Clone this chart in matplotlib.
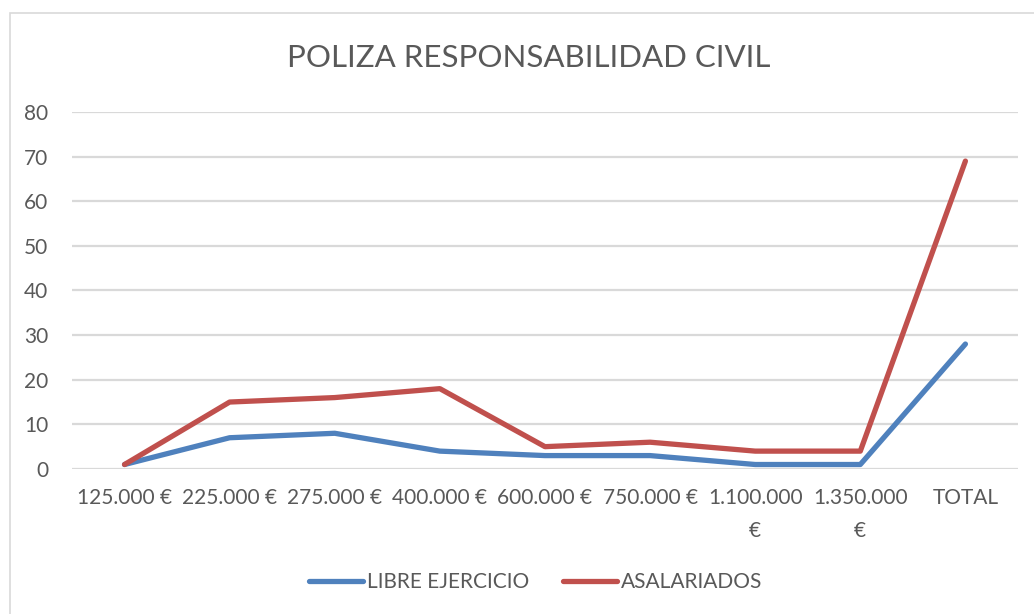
import matplotlib.pyplot as plt
from matplotlib.patches import Rectangle

plt.rcParams['font.family'] = ['Lato', 'DejaVu Sans']

categorias = ['125.000 €', '225.000 €', '275.000 €', '400.000 €', '600.000 €',
              '750.000 €', '1.100.000\n€', '1.350.000\n€', 'TOTAL']
libre_ejercicio = [1, 7, 8, 4, 3, 3, 1, 1, 28]
asalariados = [1, 15, 16, 18, 5, 6, 4, 4, 69]

gris = '#595959'

fig = plt.figure(figsize=(10.34, 6.14), dpi=100)
ax = fig.add_axes([0.0696, 0.2362, 0.9149, 0.5814])

# marco exterior del gráfico
fig.patches.append(Rectangle((10 / 1034, -0.01), 1.1, 1 - 13 / 614 + 0.01,
                             transform=fig.transFigure, fill=False,
                             edgecolor='#d9d9d9', lw=1.2))

x = range(len(categorias))
ax.plot(x, libre_ejercicio, color='#4F81BD', lw=3.8, solid_capstyle='round',
        solid_joinstyle='round', label='LIBRE EJERCICIO')
ax.plot(x, asalariados, color='#C0504D', lw=3.8, solid_capstyle='round',
        solid_joinstyle='round', label='ASALARIADOS')

ax.set_xlim(-0.5, len(categorias) - 0.5)
ax.set_ylim(0, 80)
ax.set_yticks(range(0, 81, 10))
ax.set_xticks(list(x))
ax.set_xticklabels(categorias, linespacing=1.8)
ax.grid(axis='y', color='#d9d9d9', lw=1.6)
ax.set_axisbelow(True)
for s in ax.spines.values():
    s.set_visible(False)
ax.tick_params(axis='both', length=0, labelsize=15, labelcolor=gris)
ax.tick_params(axis='x', pad=14)
ax.tick_params(axis='y', pad=17)

fig.text(0.5116, 0.905, 'POLIZA RESPONSABILIDAD CIVIL', ha='center', va='center',
         fontsize=22.5, color=gris)

fig.legend(loc='center', bbox_to_anchor=(0.518, 0.052), ncol=2, frameon=False,
           fontsize=15, labelcolor=gris, handlelength=2.6, handletextpad=0.2,
           columnspacing=1.6)

fig.savefig('out.png', dpi=100, facecolor='white')
